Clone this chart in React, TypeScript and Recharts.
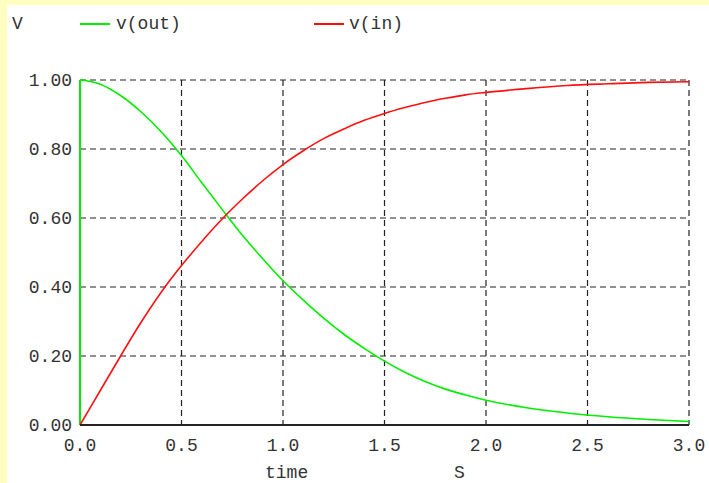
import React from 'react'
import { LineChart, Line, XAxis, YAxis, CartesianGrid } from 'recharts'

// v(out): the step at t = 0, then the decay
const STEP_T = [0, 0]
const STEP_V = [0, 1.0]
const T_OUT = [0, 0.1, 0.2, 0.3, 0.4, 0.5, 0.6, 0.7, 0.8, 0.9, 1.0, 1.1, 1.2, 1.3, 1.4, 1.5, 1.6, 1.7, 1.8, 1.9, 2.0, 2.2, 2.4, 2.6, 2.8, 3.0]
const V_OUT = [1.0, 0.988, 0.955, 0.908, 0.85, 0.781, 0.702, 0.625, 0.55, 0.482, 0.418, 0.362, 0.31, 0.263, 0.222, 0.185, 0.153, 0.126, 0.104, 0.087, 0.072, 0.05, 0.035, 0.024, 0.016, 0.01]

const T_IN = [0, 0.1, 0.2, 0.3, 0.4, 0.5, 0.6, 0.7, 0.8, 0.9, 1.0, 1.1, 1.2, 1.3, 1.4, 1.5, 1.6, 1.7, 1.8, 1.9, 2.0, 2.2, 2.4, 2.6, 2.8, 3.0]
const V_IN = [0, 0.1, 0.2, 0.297, 0.385, 0.462, 0.532, 0.597, 0.655, 0.708, 0.755, 0.795, 0.83, 0.858, 0.883, 0.903, 0.92, 0.935, 0.947, 0.957, 0.964, 0.975, 0.984, 0.989, 0.993, 0.995]

const X_TICKS = [0, 0.5, 1.0, 1.5, 2.0, 2.5, 3.0]
const Y_TICKS = [0, 0.2, 0.4, 0.6, 0.8, 1.0]

const GREEN = '#00ee00'
const RED = '#ff1010'
const SERIES = [
  { name: 'v(out)', color: GREEN, t: T_OUT, v: V_OUT },
  { name: 'v(in)', color: RED, t: T_IN, v: V_IN },
]

const FONT = '"Liberation Mono", "DejaVu Sans Mono", monospace'
const TEXT = '#333333'
const tick = { fill: TEXT, fontSize: 18, fontFamily: FONT }
const label: React.CSSProperties = { position: 'absolute', fontFamily: FONT, fontSize: 18, color: TEXT, lineHeight: '20px' }

const toRows = (ts: number[], vs: number[]) => ts.map((t, i) => ({ t, v: vs[i] }))

function LegendRow() {
  const pos = [{ line: 80, text: 116 }, { line: 314, text: 349 }]
  return (
    <>
      {SERIES.map((s, i) => (
        <React.Fragment key={s.name}>
          <div style={{ position: 'absolute', left: pos[i].line, top: 23, width: 30, height: 2, background: s.color }} />
          <div style={{ ...label, left: pos[i].text, top: 14 }}>{s.name}</div>
        </React.Fragment>
      ))}
    </>
  )
}

export default function App() {
  return (
    <div style={{ position: 'absolute', left: 0, top: 0, width: 709, height: 483, background: '#ffffc0', overflow: 'hidden' }}>
      <div style={{ position: 'absolute', left: 7, top: 5, right: 0, bottom: 0, background: '#ffffff' }} />
      <div style={{ ...label, left: 12, top: 14 }}>V</div>
      <LegendRow />
      <div style={{ ...label, left: 265, top: 463 }}>time</div>
      <div style={{ ...label, left: 454, top: 463 }}>S</div>
      <div style={{ position: 'absolute', left: 0, top: 0 }}>
        <LineChart width={709} height={483} margin={{ top: 80, right: 20, bottom: 0, left: 0 }}>
          <CartesianGrid stroke="#222" strokeDasharray="6 4" strokeWidth={1.2} />
          <XAxis
            type="number" dataKey="t" domain={[0, 3]} ticks={X_TICKS}
            tickFormatter={(v: number) => v.toFixed(1)} tick={tick}
            tickLine={false} tickSize={0} tickMargin={13}
            axisLine={{ stroke: '#222', strokeWidth: 2 }} height={58}
          />
          <YAxis
            type="number" domain={[0, 1]} ticks={Y_TICKS}
            tickFormatter={(v: number) => v.toFixed(2)} tick={tick}
            tickLine={false} tickSize={0} tickMargin={8}
            axisLine={false} width={80}
          />
          <Line
            name="v(out) step"
            data={toRows(STEP_T, STEP_V)}
            dataKey="v"
            type="linear"
            stroke={GREEN}
            strokeWidth={2}
            dot={false}
            activeDot={false}
            isAnimationActive={false}
          />
          {SERIES.map((s) => (
            <Line
              key={s.name}
              name={s.name}
              data={toRows(s.t, s.v)}
              dataKey="v"
              type="monotone"
              stroke={s.color}
              strokeWidth={1.6}
              dot={false}
              activeDot={false}
              isAnimationActive={false}
            />
          ))}
        </LineChart>
      </div>
    </div>
  )
}
